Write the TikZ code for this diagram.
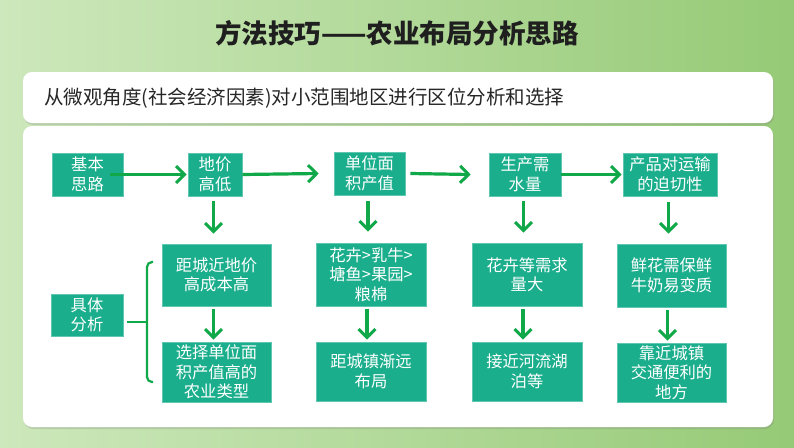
\documentclass[tikz,border=0pt]{standalone}
\usepackage{fontspec}
\newfontfamily\cjk{Noto Sans CJK SC}
\usetikzlibrary{arrows.meta,shadows}
\definecolor{boxfill}{RGB}{27,174,140}
\definecolor{arrgreen}{RGB}{16,168,72}
\definecolor{bgL}{RGB}{205,232,188}
\definecolor{bgM}{RGB}{200,230,180}
\definecolor{bgR}{RGB}{150,202,118}
\tikzset{
  stepbox/.style={draw=boxfill!70!white, line width=0.6pt, fill=boxfill, text=white,
    font=\cjk\fontsize{16.3}{19.5}\selectfont, align=center, inner sep=0pt},
  arr/.style={draw=arrgreen, line width=3.2pt, -{Straight Barb[length=8.5pt,width=17pt,line width=3pt]}},
  brace/.style={draw=arrgreen, line width=2.2pt, rounded corners=5pt},
  panel/.style={fill=white, rounded corners=9pt, drop shadow={opacity=0.25, shadow xshift=1pt, shadow yshift=-2pt}}
}
\begin{document}
\begin{tikzpicture}[x=1pt,y=-1pt]
\useasboundingbox (0,0) rectangle (794,447);
\shade[left color=bgL, middle color=bgM, right color=bgR] (0,0) rectangle (794,447);
% panels
\path[panel] (23,72) rectangle (773,123);
\path[panel] (23,126) rectangle (773,427);
% title
\node[font=\cjk\bfseries\fontsize{26.5}{30}\selectfont, text=black!88] (title) at (397,33) {方法技巧——农业布局分析思路};
\node[font=\cjk\fontsize{19.5}{22}\selectfont, text=black!85, anchor=west, inner sep=0pt] (sub) at (44,98) {从微观角度(社会经济因素)对小范围地区进行区位分析和选择};
% row 1
\node[stepbox, minimum width=71pt, minimum height=43pt] (b1) at (87.5,174.5) {基本\\思路};
\node[stepbox, minimum width=54pt, minimum height=43pt] (b2) at (215,174.5) {地价\\高低};
\node[stepbox, minimum width=71pt, minimum height=43pt] (b3) at (369.5,173.5) {单位面\\积产值};
\node[stepbox, minimum width=72pt, minimum height=43pt] (b4) at (525,174.5) {生产需\\水量};
\node[stepbox, minimum width=94pt, minimum height=43pt] (b5) at (670,174.5) {产品对运输\\的迫切性};
% row 2
\node[stepbox, minimum width=109pt, minimum height=62pt] (c1) at (216.5,275) {距城近地价\\高成本高};
\node[stepbox, minimum width=110pt, minimum height=63pt] (c2) at (371,274.5) {花卉>乳牛>\\塘鱼>果园>\\粮棉};
\node[stepbox, minimum width=110pt, minimum height=63pt] (c3) at (527,274.5) {花卉等需求\\量大};
\node[stepbox, minimum width=109pt, minimum height=63pt] (c4) at (671.5,275.5) {鲜花需保鲜\\牛奶易变质};
% row 3
\node[stepbox, minimum width=109pt, minimum height=60pt] (d1) at (216.5,372) {选择单位面\\积产值高的\\农业类型};
\node[stepbox, minimum width=110pt, minimum height=59pt] (d2) at (371,371.5) {距城镇渐远\\布局};
\node[stepbox, minimum width=110pt, minimum height=59pt] (d3) at (527,371.5) {接近河流湖\\泊等};
\node[stepbox, minimum width=109pt, minimum height=59pt] (d4) at (671.5,372.5) {靠近城镇\\交通便利的\\地方};
% left
\node[stepbox, minimum width=72pt, minimum height=42pt] (e) at (87,315) {具体\\分析};
% horizontal arrows
\draw[arr] ([xshift=-13pt]b1.east) -- ([xshift=-1pt]b2.west);
\draw[arr] (b2.east) -- ([xshift=-15pt]b3.west);
\draw[arr] ([xshift=5pt]b3.east) -- ([xshift=-18pt]b4.west);
\draw[arr] (b4.east) -- ([xshift=-1pt]b5.west);
% vertical arrows
\draw[arr] ([xshift=-1.5pt,yshift=-5pt]b2.south) -- ([xshift=-1.5pt,yshift=10pt]b2.south |- c1.north);
\draw[arr] ([xshift=-1.5pt,yshift=-6pt]b3.south) -- ([xshift=-1.5pt,yshift=11pt]b3.south |- c2.north);
\draw[arr] ([xshift=-1.5pt,yshift=-5pt]b4.south) -- ([xshift=-1.5pt,yshift=10pt]b4.south |- c3.north);
\draw[arr] ([xshift=-1.5pt,yshift=-6pt]b5.south) -- ([xshift=-1.5pt,yshift=10pt]b5.south |- c4.north);
\draw[arr] ([xshift=-3pt,yshift=-3pt]c1.south) -- ([xshift=-3pt,yshift=2pt]c1.south |- d1.north);
\draw[arr] ([xshift=-4pt,yshift=-3pt]c2.south) -- ([xshift=-4pt,yshift=2pt]c2.south |- d2.north);
\draw[arr] ([xshift=-4pt,yshift=-3pt]c3.south) -- ([xshift=-4pt,yshift=2pt]c3.south |- d3.north);
\draw[arr] ([xshift=-4pt,yshift=-3pt]c4.south) -- ([xshift=-4pt,yshift=2pt]c4.south |- d4.north);
% brace
\coordinate (bt) at (153,262);
\coordinate (bb) at (153,382);
\coordinate (bm) at (147,322);
\draw[brace] (bt) -- (bm |- bt) -- (bm |- bb) -- (bb);
\draw[draw=arrgreen, line width=2.2pt] ([xshift=4pt]e.east |- bm) -- (bm);
\end{tikzpicture}
\end{document}
